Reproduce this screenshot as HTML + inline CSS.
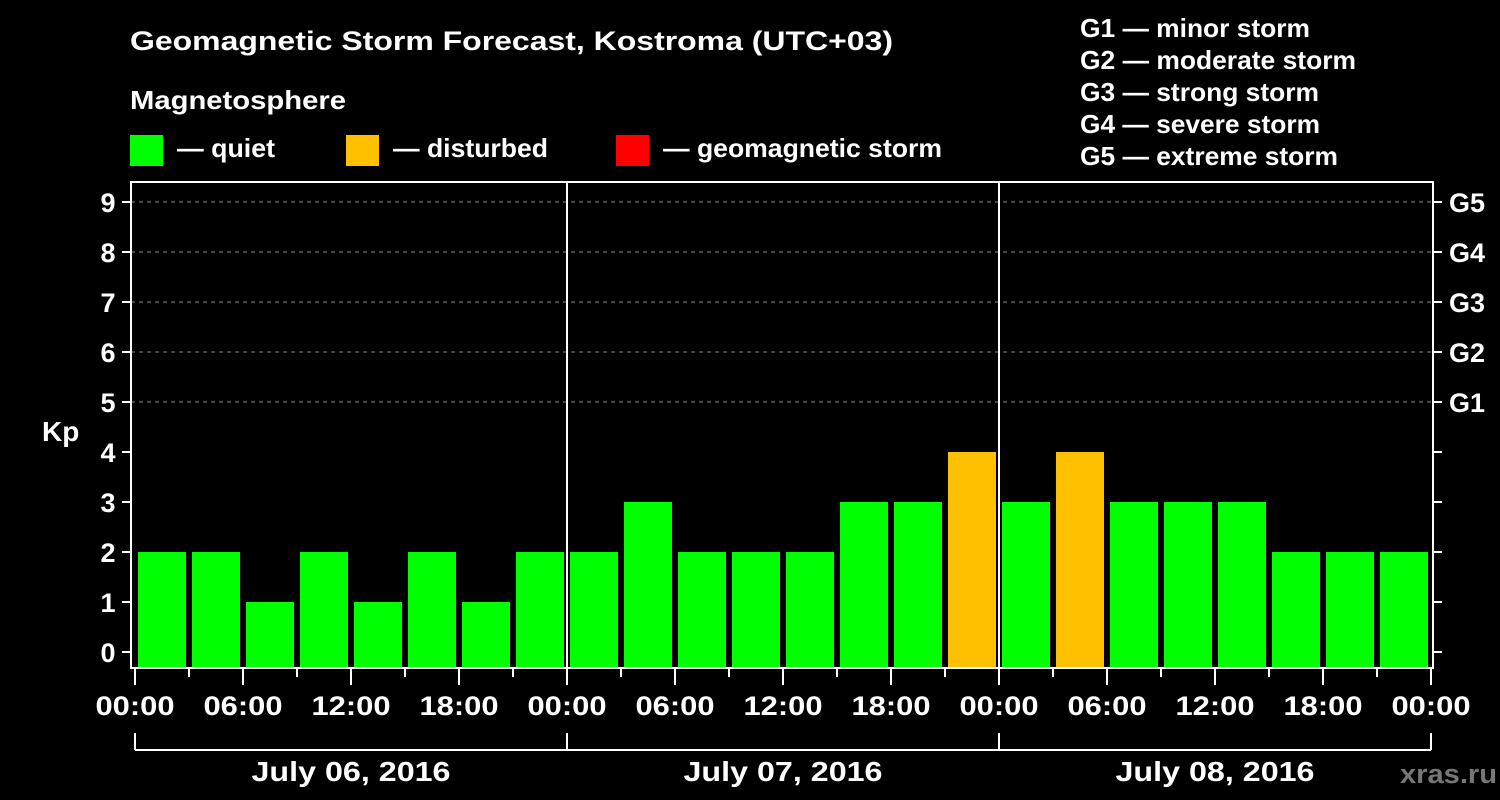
<!DOCTYPE html>
<html><head><meta charset="utf-8"><style>
html,body{margin:0;padding:0;background:#000;}
svg{display:block;font-family:"Liberation Sans",sans-serif;font-weight:bold;}
</style></head><body>
<svg id="chart" width="1500" height="800" viewBox="0 0 1500 800">
<rect width="1500" height="800" fill="#000"/>
<text x="130" y="50" fill="#fff" font-size="27" textLength="763" lengthAdjust="spacingAndGlyphs">Geomagnetic Storm Forecast, Kostroma (UTC+03)</text>
<text x="130" y="109" fill="#fff" font-size="26" textLength="216" lengthAdjust="spacingAndGlyphs">Magnetosphere</text>
<g>
<rect x="130" y="135" width="33" height="31" fill="#00ff00"/>
<text x="177" y="157" fill="#fff" font-size="26" textLength="98" lengthAdjust="spacingAndGlyphs">— quiet</text>
<rect x="346" y="135" width="33" height="31" fill="#ffc000"/>
<text x="393" y="157" fill="#fff" font-size="26" textLength="155" lengthAdjust="spacingAndGlyphs">— disturbed</text>
<rect x="616" y="135" width="33" height="31" fill="#ff0000"/>
<text x="663" y="157" fill="#fff" font-size="26" textLength="279" lengthAdjust="spacingAndGlyphs">— geomagnetic storm</text>
</g>
<g fill="#fff" font-size="26" lengthAdjust="spacingAndGlyphs">
<text x="1080" y="37" textLength="230" lengthAdjust="spacingAndGlyphs">G1 — minor storm</text>
<text x="1080" y="69" textLength="276" lengthAdjust="spacingAndGlyphs">G2 — moderate storm</text>
<text x="1080" y="101" textLength="239" lengthAdjust="spacingAndGlyphs">G3 — strong storm</text>
<text x="1080" y="133" textLength="240" lengthAdjust="spacingAndGlyphs">G4 — severe storm</text>
<text x="1080" y="165" textLength="258" lengthAdjust="spacingAndGlyphs">G5 — extreme storm</text>
</g>
<text x="42" y="441" fill="#fff" font-size="28">Kp</text>
<text x="1400" y="783" fill="#777" font-size="27" textLength="97" lengthAdjust="spacingAndGlyphs">xras.ru</text>
<g id="plot"></g>
</svg>
<script>
const kpValues = [2,2,1,2,1,2,1,2, 2,3,2,2,2,3,3,4, 3,4,3,3,3,2,2,2];
const dayLabels = ["July 06, 2016","July 07, 2016","July 08, 2016"];
const hourLabels = ["00:00","06:00","12:00","18:00"];
const gLabels = ["G1","G2","G3","G4","G5"];
const NS="http://www.w3.org/2000/svg";
const plotG=document.getElementById('plot');
const X0=135, PX_HR=18, Y_ZERO=652, PX_UNIT=50, P_TOP=182, P_BOT=668, P_L=131, P_R=1433;
function xs(h){return X0+h*PX_HR;}
function ys(v){return Y_ZERO-v*PX_UNIT;}
function mk(t,a){const e=document.createElementNS(NS,t);for(const k in a)e.setAttribute(k,a[k]);plotG.appendChild(e);return e;}
for(let v=5;v<=9;v++){const l=mk('line',{x1:P_L,x2:P_R,y1:ys(v),y2:ys(v),stroke:'#888','stroke-width':1,'stroke-dasharray':'4,4'});

}
kpValues.forEach(function(v,i){const r=mk('rect',{x:xs(i*3)+3,width:48,y:ys(v),height:P_BOT-1-ys(v),fill:v>=5?'#ff0000':(v>=4?'#ffc000':'#00ff00')});

});
mk('rect',{x:P_L,y:P_TOP,width:P_R-P_L,height:P_BOT-P_TOP,fill:'none',stroke:'#fff','stroke-width':2});
for(let d=1;d<dayLabels.length;d++){const l=mk('line',{x1:xs(d*24),x2:xs(d*24),y1:P_TOP,y2:P_BOT,stroke:'#fff','stroke-width':2});

}
for(let v=0;v<=9;v++){mk('line',{x1:122,x2:P_L,y1:ys(v),y2:ys(v),stroke:'#fff','stroke-width':2});
mk('line',{x1:P_R,x2:1442,y1:ys(v),y2:ys(v),stroke:'#fff','stroke-width':2});
const t=mk('text',{x:108,y:ys(v)+10,fill:'#fff','font-size':27,'text-anchor':'middle'});t.textContent=v;

}
gLabels.forEach(function(s,i){const t=mk('text',{x:1449,y:ys(5+i)+10,fill:'#fff','font-size':27});t.textContent=s;

});
const nH=dayLabels.length*24;
for(let h=0;h<=nH;h+=3){const major=h%6===0;mk('line',{x1:xs(h),x2:xs(h),y1:P_BOT,y2:P_BOT+(major?17:9),stroke:'#fff','stroke-width':2});
if(major){const t=mk('text',{x:xs(h),y:715,fill:'#fff','font-size':27,'text-anchor':'middle',textLength:79,lengthAdjust:'spacingAndGlyphs'});t.textContent=hourLabels[(h/6)%4];

}}
mk('line',{x1:xs(0),x2:xs(nH),y1:750,y2:750,stroke:'#fff','stroke-width':2});
for(let d=0;d<=dayLabels.length;d++)mk('line',{x1:xs(d*24),x2:xs(d*24),y1:733,y2:750,stroke:'#fff','stroke-width':2});
dayLabels.forEach(function(s,d){const t=mk('text',{x:xs(d*24+12),y:781,fill:'#fff','font-size':28,'text-anchor':'middle',textLength:199,lengthAdjust:'spacingAndGlyphs'});t.textContent=s;

});
</script>
</body></html>
